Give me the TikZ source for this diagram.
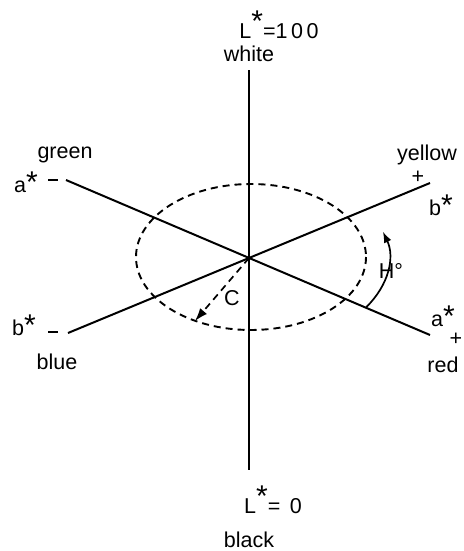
\documentclass[tikz,border=0pt]{standalone}
\usepackage{fontspec}
\setmainfont{Liberation Sans}
\usetikzlibrary{arrows.meta}
\newcommand{\st}{\raisebox{0.0em}{\fontsize{30}{30}\selectfont *}}
\begin{document}
\begin{tikzpicture}[x=1pt,y=-1pt,
  lbl/.style={inner sep=0pt,font=\fontsize{21.5}{24}\selectfont},
  axis/.style={line width=2pt},
  vaxis/.style={line width=1.5pt},
  ell/.style={line width=1.9pt,dash pattern=on 7pt off 5pt},
  tick/.style={line width=1.5pt}]
\useasboundingbox (0,0) rectangle (463,551);
\coordinate (ctr) at (249,258);
\coordinate (top) at (249,70);
\coordinate (bot) at (249,470);
\coordinate (gA) at (66,180);
\coordinate (rA) at (430,335);
\coordinate (bB) at (68,333);
\coordinate (yB) at (430,183);
\coordinate (ectr) at (251,257);
\coordinate (ctip) at (195,321);
\coordinate (hctr) at (249,258);
% axes
\draw[vaxis] (top) -- (bot);
\draw[axis] (gA) -- (rA);
\draw[axis] (bB) -- (yB);
% dashed ellipse
\draw[ell] (ectr) ellipse [x radius=115, y radius=73];
% chroma
\draw[line width=1.7pt,dash pattern=on 7pt off 5pt,-{Latex[length=13pt,width=9pt]}] (ctr) -- (ctip);
% hue arc
\draw[line width=1.7pt,-{Latex[length=11pt,width=8pt]}] ([shift={(33:140 and 90)}]hctr) arc[start angle=33,end angle=-17,x radius=140,y radius=90];
% ticks
\node[lbl] (gm) at (53,180) {\rule{10pt}{1.8pt}};
\node[lbl] (bm) at (53,332) {\rule{10pt}{1.8pt}};
\node[lbl] (yp) at (418,177) {+};
\node[lbl] (rp) at (456,339) {+};
% labels
\node[lbl] (L100) at (279,25) {L\raisebox{0.3em}{\st}=1\,0\,0};
\node[lbl] (white) at (249,54) {white};
\node[lbl] (L0) at (273,500) {L\raisebox{0.3em}{\st}= \,0};
\node[lbl] (black) at (249,540) {black};
\node[lbl] (green) at (65,155) {green};
\node[lbl] (aL) at (26,182) {a\st};
\node[lbl] (yellow) at (427,155) {yellow};
\node[lbl] (bR) at (441,205) {b\st};
\node[lbl] (bL) at (24,325) {b\st};
\node[lbl] (blue) at (57,362) {blue};
\node[lbl] (aR) at (443,316) {a\st};
\node[lbl] (red) at (443,365) {red};
\node[lbl] (C) at (232,298) {C};
\node[lbl] (H) at (391,271) {H°};
\end{tikzpicture}
\end{document}
